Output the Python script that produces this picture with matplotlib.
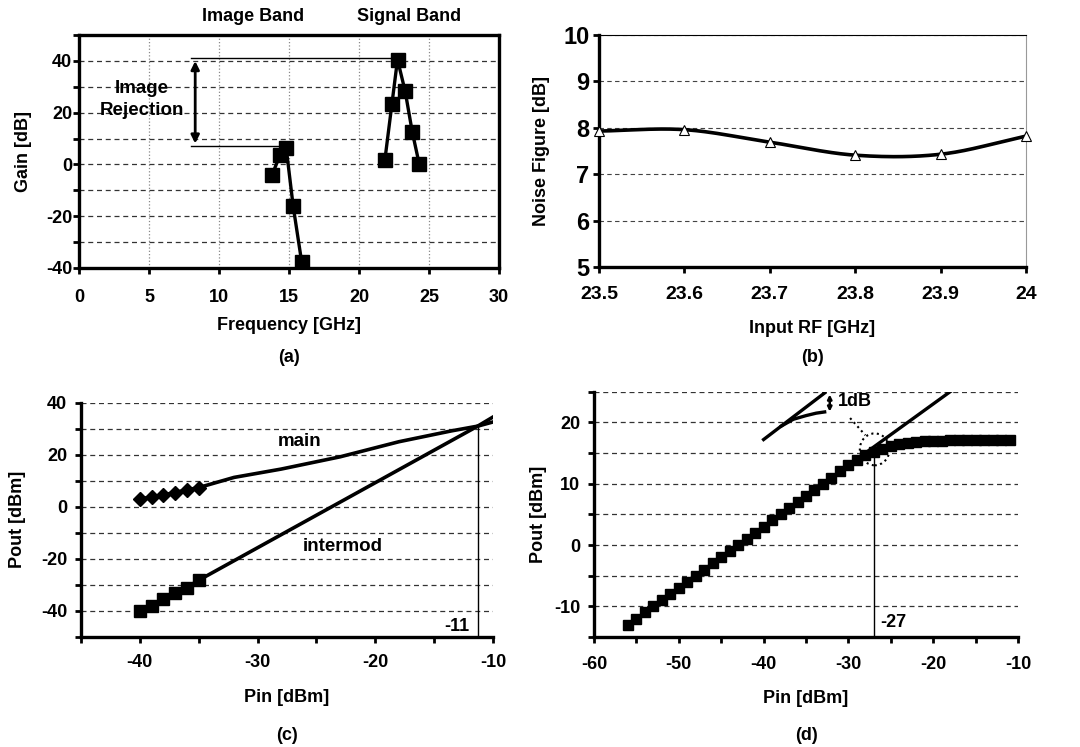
import matplotlib
import numpy as np

matplotlib.use("Agg")
import matplotlib.pyplot as plt
from matplotlib.patches import Ellipse

plt.rcParams["font.family"] = ["Liberation Sans", "DejaVu Sans"]
plt.rcParams["font.weight"] = "bold"
plt.rcParams["axes.unicode_minus"] = False

# (a) gain vs frequency
image_freq = [13.8, 14.35, 14.8, 15.3, 15.9]
image_gain = [-3.9, 3.5, 6.3, -16.2, -37.5]
signal_freq = [21.85, 22.35, 22.75, 23.3, 23.8, 24.3]
signal_gain = [1.8, 23.3, 40.5, 28.2, 12.7, 0.2]
rejection_top = 41
rejection_bottom = 7

# (b) noise figure
rf_freq = [23.5, 23.6, 23.7, 23.8, 23.9, 24.0]
noise_fig = [7.93, 7.96, 7.69, 7.41, 7.43, 7.82]

# (c) two-tone intercept
pin_meas = [-40, -39, -38, -37, -36, -35]
main_meas = [3.0, 3.8, 4.6, 5.5, 6.5, 7.4]
imd_meas = [-40.2, -38.0, -35.5, -33.2, -31.0, -28.2]
main_ext_x = [-35, -32, -28, -23, -18, -13.5, -11.3, -10]
main_ext_y = [7.4, 11.3, 14.5, 19.2, 25.0, 29.2, 31.0, 32.6]
imd_ext_x = [-35, -11.3, -10]
imd_ext_y = [-28.2, 31.0, 34.5]
iip3 = -11.3

# (d) 1 dB compression
pin_sweep = list(range(-56, -10))
pout_sweep = [-13.0, -12.0, -11.0, -10.0, -9.0, -8.0, -7.0, -6.0, -5.0, -4.0,
              -3.0, -2.0, -1.0, 0.0, 1.0, 2.0, 3.0, 4.0, 5.0, 6.0,
              7.0, 8.0, 9.0, 10.0, 11.0, 12.0, 13.0, 13.8, 14.6, 15.2,
              15.7, 16.1, 16.4, 16.6, 16.8, 16.9, 17.0, 17.0, 17.05, 17.1,
              17.1, 17.1, 17.1, 17.1, 17.1, 17.1]
ideal_x = [-30, -18]
ideal_y = [13, 25]
p1db = -27
sketch_line_x = [-40, -32.8]
sketch_line_y = [17.2, 24.8]
sketch_curve_x = [-37.9, -36.5, -35.0, -33.8, -32.8]
sketch_curve_y = [19.4, 20.5, 21.1, 21.5, 21.7]

W, H = 1080, 747
FS = 13


def add_ax(fig, left, right, top, bottom):
    return fig.add_axes([left / W, 1 - bottom / H, (right - left) / W, (bottom - top) / H])


def smooth(x, y, n=30):
    # Catmull-Rom curve through the points (like a spreadsheet smoothed line)
    x = np.asarray(x, float)
    y = np.asarray(y, float)
    px = np.concatenate([[2 * x[0] - x[1]], x, [2 * x[-1] - x[-2]]])
    py = np.concatenate([[2 * y[0] - y[1]], y, [2 * y[-1] - y[-2]]])
    t = np.linspace(0, 1, n)[:, None]
    xs, ys = [], []
    for i in range(1, len(px) - 2):
        for p, out in ((px, xs), (py, ys)):
            p0, p1, p2, p3 = p[i - 1], p[i], p[i + 1], p[i + 2]
            out.append((0.5 * ((2 * p1) + (-p0 + p2) * t + (2 * p0 - 5 * p1 + 4 * p2 - p3) * t ** 2
                               + (-p0 + 3 * p1 - 3 * p2 + p3) * t ** 3)).ravel())
    return np.concatenate(xs), np.concatenate(ys)


def style(ax, xpad, ypad, xsize=FS, ysize=FS):
    for s in ("left", "bottom"):
        ax.spines[s].set_linewidth(2.4)
    ax.tick_params(which="both", direction="out", length=4, width=2)
    ax.tick_params(axis="x", labelsize=xsize, pad=xpad)
    ax.tick_params(axis="y", labelsize=ysize, pad=ypad)
    for lab in ax.get_xticklabels() + ax.get_yticklabels():
        lab.set_fontweight("bold")


def labels(ax, xlabel, ylabel, tag, xl_y, yl_x, tag_y):
    ax.set_xlabel(xlabel, fontsize=FS, fontweight="bold")
    ax.set_ylabel(ylabel, fontsize=FS, fontweight="bold")
    ax.xaxis.set_label_coords(0.5, xl_y)
    ax.yaxis.set_label_coords(yl_x, 0.5)
    ax.xaxis.label.set_va("center")
    ax.yaxis.label.set_va("center")
    ax.text(0.5, tag_y, tag, transform=ax.transAxes, ha="center", va="center",
            fontsize=FS, fontweight="bold")


fig = plt.figure(figsize=(W / 100, H / 100), dpi=100)
dash = dict(color="#333333", linestyle=(0, (4, 3)), linewidth=0.9)

# ---- (a)
ax = add_ax(fig, 79, 499, 35, 268)
ax.set_xlim(0, 30)
ax.set_ylim(-40, 50)
for s in ("top", "right"):
    ax.spines[s].set_linewidth(2.4)
ax.set_xticks(range(0, 31, 5))
ax.set_yticks(range(-40, 41, 20))
ax.set_yticks(range(-40, 51, 10), minor=True)
ax.grid(axis="y", which="both", **dash)
ax.grid(axis="x", color="#888888", linestyle=":", linewidth=0.9)
ax.plot(image_freq, image_gain, color="black", lw=2.4, marker="s", ms=10)
ax.plot(signal_freq, signal_gain, color="black", lw=2.4, marker="s", ms=10)
ax.plot([8, signal_freq[2]], [rejection_top] * 2, color="black", lw=1)
ax.plot([8, image_freq[2]], [rejection_bottom] * 2, color="black", lw=1)
ax.annotate("", xy=(8.3, rejection_top), xytext=(8.3, rejection_bottom),
            arrowprops=dict(arrowstyle="<|-|>", color="black", lw=2, mutation_scale=12))
ax.text(4.5, 25, "Image\nRejection", ha="center", va="center", fontsize=13.5,
        fontweight="bold", linespacing=1.4)
ax.text(12.4, 57, "Image Band", ha="center", va="center", fontsize=FS, fontweight="bold")
ax.text(23.6, 57, "Signal Band", ha="center", va="center", fontsize=FS, fontweight="bold")
style(ax, xpad=11, ypad=1)
labels(ax, "Frequency [GHz]", "Gain [dB]", "(a)", -0.245, -0.133, -0.386)

# ---- (b)
ax = add_ax(fig, 599, 1026, 35, 267)
ax.set_xlim(23.5, 24.0)
ax.set_ylim(5, 10)
ax.spines["top"].set_linewidth(0.8)
ax.spines["right"].set_color("#999999")
ax.set_xticks(rf_freq)
ax.set_xticklabels(["23.5", "23.6", "23.7", "23.8", "23.9", "24"])
ax.set_yticks(range(5, 11))
ax.grid(axis="y", color="#444444", linestyle=(0, (4, 3)), linewidth=0.8)
sx, sy = smooth(rf_freq, noise_fig)
ax.plot(sx, sy, color="black", lw=2.6, zorder=3)
ax.plot(rf_freq, noise_fig, linestyle="none", marker="^", ms=7, mfc="white",
        mec="black", mew=0.8, zorder=4, clip_on=False)
style(ax, xpad=10, ypad=3, xsize=14, ysize=17)
labels(ax, "Input RF [GHz]", "Noise Figure [dB]", "(b)", -0.265, -0.1335, -0.392)

# ---- (c)
ax = add_ax(fig, 81, 493, 402.7, 637)
ax.set_xlim(-45, -10)
ax.set_ylim(-50, 40)
for s in ("top", "right"):
    ax.spines[s].set_visible(False)
ax.set_xticks(range(-40, -9, 10))
ax.set_xticks(range(-45, -9, 5), minor=True)
ax.set_yticks(range(-40, 41, 20))
ax.set_yticks(range(-50, 41, 10), minor=True)
ax.grid(axis="y", which="both", **dash)
ax.plot(main_ext_x, main_ext_y, color="black", lw=2.6)
ax.plot(imd_ext_x, imd_ext_y, color="black", lw=2.6)
ax.plot(pin_meas, main_meas, color="black", lw=2.6, marker="D", ms=7.5)
ax.plot(pin_meas, imd_meas, color="black", lw=2.6, marker="s", ms=9)
ax.plot([iip3, iip3], [-50, 31], color="black", lw=1)
ax.text(-12, -46, "-11", ha="right", va="center", fontsize=FS, fontweight="bold")
ax.text(-26.4, 25, "main", ha="center", va="center", fontsize=13.5, fontweight="bold")
ax.text(-22.8, -15.3, "intermod", ha="center", va="center", fontsize=13.5,
        fontweight="bold")
style(ax, xpad=8, ypad=6)
labels(ax, "Pin [dBm]", "Pout [dBm]", "(c)", -0.26, -0.155, -0.42)

# ---- (d)
ax = add_ax(fig, 594, 1018, 391.7, 637)
ax.set_xlim(-60, -10)
ax.set_ylim(-15, 25)
for s in ("top", "right"):
    ax.spines[s].set_visible(False)
ax.set_xticks(range(-60, -9, 10))
ax.set_xticks(range(-60, -9, 5), minor=True)
ax.set_yticks(range(-10, 21, 10))
ax.set_yticks(range(-15, 26, 5), minor=True)
ax.grid(axis="y", which="both", **dash)
ax.plot(pin_sweep, pout_sweep, color="black", lw=2.4, marker="s", ms=7.5)
ax.plot(ideal_x, ideal_y, color="black", lw=2.4)
ax.plot([p1db, p1db], [-15, 15.3], color="black", lw=1)
ax.text(-26.3, -12.6, "-27", ha="left", va="center", fontsize=FS, fontweight="bold")
ax.plot(sketch_line_x, sketch_line_y, color="black", lw=2.4)
ax.plot(sketch_curve_x, sketch_curve_y, color="black", lw=2.4)
ax.annotate("", xy=(-32.2, 25.0), xytext=(-32.2, 21.3),
            arrowprops=dict(arrowstyle="<|-|>", color="black", lw=1.8, mutation_scale=6))
ax.text(-31.3, 23.4, "1dB", ha="left", va="center", fontsize=FS, fontweight="bold")
ax.add_patch(Ellipse((-26.9, 15.6), 3.5, 5.2, fill=False, linestyle=":", lw=1.5,
                     edgecolor="black"))
ax.plot([-29.8, -28.0], [20.7, 17.9], color="black", linestyle=":", lw=1.5)
style(ax, xpad=10, ypad=6)
labels(ax, "Pin [dBm]", "Pout [dBm]", "(d)", -0.249, -0.132, -0.40)

fig.savefig("out.png", dpi=100)
plt.close(fig)
